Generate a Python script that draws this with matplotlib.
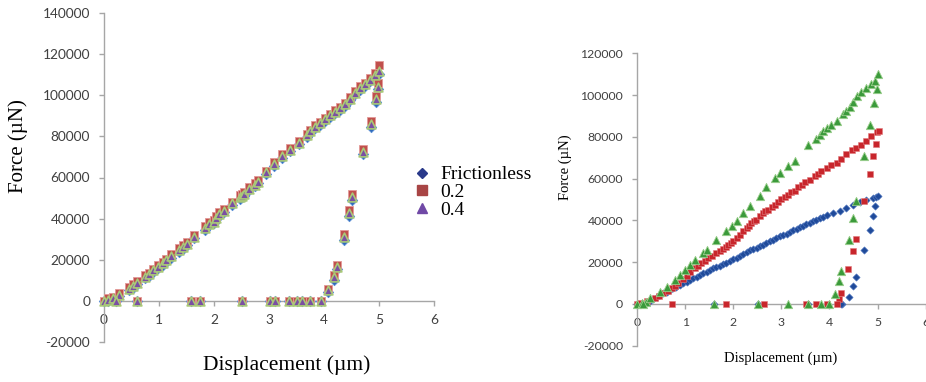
import matplotlib.pyplot as plt
from matplotlib.lines import Line2D

plt.rcParams["axes.unicode_minus"] = False

# ---- left chart: three friction cases, nearly on top of each other ----
left_disp = [0.0, 0.07, 0.16, 0.27, 0.45, 0.52, 0.6, 0.75, 0.81, 0.89, 0.99, 1.07,
             1.13, 1.22, 1.37, 1.43, 1.51, 1.63, 1.83, 1.9, 2.0, 2.04, 2.09, 2.19,
             2.33, 2.48, 2.51, 2.55, 2.63, 2.75, 2.8, 2.94, 3.09, 3.24, 3.39, 3.54,
             3.69, 3.75, 3.84, 3.93, 4.02, 4.11, 4.2, 4.29, 4.38, 4.47, 4.56, 4.65,
             4.74, 4.84, 4.93, 5.0,
             # unloading
             4.98, 4.95, 4.85, 4.7, 4.51, 4.45, 4.36, 4.24, 4.19, 4.08,
             # lost contact
             0.22, 0.6, 1.59, 1.75, 2.51, 3.01, 3.11, 3.37, 3.51, 3.6, 3.75, 3.94]

left_frictionless = [0, 0, 600, 2200, 5200, 6500, 8100, 10900, 12100, 14000, 15900, 17500,
                     18900, 21000, 23900, 25400, 27000, 30400, 34600, 36700, 37800, 39600,
                     41400, 43100, 46700, 49700, 50400, 51200, 53700, 55700, 57200, 61700,
                     65700, 69700, 72700, 76200, 79700, 81700, 84000, 85500, 87500, 89500,
                     91200, 92800, 94800, 97500, 100500, 102700, 104500, 106700, 109200, 110500,
                     102800, 96500, 84800, 71300, 49300, 41300, 29800, 15300, 10300, 4300,
                     0, 0, 0, 0, 0, 0, 0, 0, 0, 0, 0, 0]

left_02 = [0, 1200, 1900, 3800, 6800, 8100, 9700, 12500, 13700, 15600, 17500, 19100,
           20500, 22600, 25500, 27000, 28600, 32000, 36200, 38300, 39400, 41200,
           43000, 44700, 48300, 51300, 52000, 52800, 55300, 57300, 58800, 63300,
           67300, 71300, 74300, 77800, 81300, 83300, 85600, 87100, 89100, 91100,
           92800, 94400, 96400, 99100, 102100, 104300, 106100, 108300, 111000, 114500,
           106000, 99500, 87500, 74000, 52000, 44000, 32300, 17500, 12500, 6000,
           0, 0, 0, 0, 0, 0, 0, 0, 0, 0, 0, 0]

left_04 = [0, 600, 1300, 3000, 6000, 7300, 8900, 11700, 12900, 14800, 16700, 18300,
           19700, 21800, 24700, 26200, 27800, 31200, 35400, 37500, 38600, 40400,
           42200, 43900, 47500, 50500, 51200, 52000, 54500, 56500, 58000, 62500,
           66500, 70500, 73500, 77000, 80500, 82500, 84800, 86300, 88300, 90300,
           92000, 93600, 95600, 98300, 101300, 103500, 105300, 107500, 110000, 112000,
           104000, 98000, 86000, 72500, 50500, 42500, 31000, 16500, 11500, 5200,
           0, 0, 0, 0, 0, 0, 0, 0, 0, 0, 0, 0]

legend_labels = ["Frictionless", "0.2", "0.4"]

# ---- right chart ----
r_fless_x = [0.0, 0.13, 0.24, 0.34, 0.41, 0.48, 0.55, 0.62, 0.69, 0.75, 0.82, 0.89, 0.96,
             1.03, 1.1, 1.17, 1.24, 1.31, 1.38, 1.45, 1.52, 1.58, 1.65, 1.72, 1.79, 1.86,
             1.93, 2.0, 2.07, 2.14, 2.21, 2.28, 2.35, 2.42, 2.49, 2.55, 2.62, 2.69, 2.76,
             2.83, 2.9, 2.97, 3.04, 3.11, 3.18, 3.25, 3.32, 3.38, 3.45, 3.52, 3.59, 3.66,
             3.73, 3.8, 3.87, 3.94, 4.08, 4.21, 4.35, 4.49, 4.63, 4.77, 4.91, 4.97, 5.01,
             4.94, 4.91, 4.84, 4.71, 4.56, 4.49, 4.41, 4.27,
             1.6, 2.52, 3.56, 4.24]
r_fless_y = [0, 200, 900, 2400, 3300, 4300, 5100, 5900, 6700, 7500, 8300, 9100, 9900,
             10700, 11500, 12300, 13100, 13900, 14700, 15500, 16300, 17100, 17600, 18200,
             19000, 19800, 20600, 21400, 22200, 23000, 24000, 25100, 25600, 26200, 26900,
             27500, 28300, 29100, 29900, 30700, 31500, 32300, 32900, 33600, 34400, 35200,
             35900, 36600, 37400, 38200, 38800, 39500, 40300, 41100, 41700, 42400, 43500,
             44600, 45900, 47200, 48600, 49600, 50700, 51300, 51500,
             47000, 42200, 35500, 25900, 13100, 8600, 3200, 0,
             0, 0, 0, 0]

r_02_x = [0.0, 0.06, 0.2, 0.37, 0.45, 0.55, 0.64, 0.72, 0.79, 0.86, 0.95, 1.03, 1.11,
          1.2, 1.27, 1.34, 1.41, 1.48, 1.56, 1.65, 1.72, 1.79, 1.85, 1.9, 1.95, 2.0, 2.07,
          2.14, 2.21, 2.28, 2.33, 2.38, 2.43, 2.48, 2.55, 2.62, 2.67, 2.73, 2.8, 2.87,
          2.93, 3.0, 3.07, 3.14, 3.21, 3.28, 3.35, 3.42, 3.49, 3.59, 3.7, 3.77, 3.83,
          3.94, 4.04, 4.15, 4.25, 4.35, 4.46, 4.56, 4.66, 4.77, 4.87, 4.98, 5.03,
          4.96, 4.91, 4.84, 4.72, 4.56, 4.49, 4.39, 4.25, 4.2,
          0.72, 1.86, 2.64, 3.52, 3.72, 3.94, 4.15]
r_02_y = [0, 400, 1300, 2900, 4000, 5100, 6300, 7500, 8700, 9900, 11700, 13400, 15200,
          17100, 18300, 19500, 20700, 21900, 23100, 24300, 25300, 26200, 27200, 28300,
          29100, 29900, 31500, 33100, 34700, 36300, 37500, 38700, 39500, 40300, 41900,
          43500, 44300, 45100, 46300, 47500, 48900, 50400, 51300, 52200, 53400, 54300,
          55800, 57000, 58200, 59500, 61100, 62400, 63800, 65100, 66400, 67500, 69600,
          72000, 73600, 74700, 76000, 77900, 80300, 82200, 82700,
          76800, 71000, 62400, 49100, 31200, 25400, 16600, 5100, 2400,
          0, 0, 0, 0, 0, 0, 0]

r_04_x = [0.0, 0.1, 0.19, 0.28, 0.48, 0.62, 0.79, 0.89, 1.0, 1.1, 1.2, 1.38, 1.45,
          1.64, 1.86, 1.97, 2.07, 2.21, 2.35, 2.55, 2.69, 2.87, 2.97, 3.14, 3.28, 3.56,
          3.73, 3.8, 3.87, 3.94, 4.04, 4.15, 4.28, 4.35, 4.42, 4.49, 4.58, 4.66, 4.77,
          4.87, 4.94, 5.0,
          4.98, 4.92, 4.85, 4.71, 4.56, 4.49, 4.4, 4.25, 4.19, 4.11,
          0.12, 1.6, 2.52, 3.14, 3.56, 3.83, 3.99]
r_04_y = [0, 300, 1000, 2700, 5900, 8300, 11500, 13900, 16300, 18700, 21100, 24300,
          25900, 30700, 34700, 37100, 39500, 43500, 47000, 51800, 56000, 60300, 62700,
          65900, 68600, 76000, 79000, 81100, 82700, 84300, 85900, 87500, 90700, 92600,
          94400, 96600, 99500, 101400, 103500, 105100, 106700, 109900,
          103000, 96300, 85900, 70700, 49100, 41100, 30400, 16000, 11200, 4600,
          0, 0, 0, 0, 0, 0, 0]

tick_font = "Lato"
label_font = "Liberation Serif"
axis_grey = "#a6a6a6"
text_grey = "#404040"


def excel_axes(ax, xmax, ymin, ymax, ystep, tick_size):
    ax.set_xlim(0, xmax)
    ax.set_ylim(ymin, ymax)
    ax.set_xticks(range(0, xmax + 1))
    ax.set_yticks(range(ymin, ymax + 1, ystep))
    for s in ["top", "right"]:
        ax.spines[s].set_visible(False)
    ax.spines["bottom"].set_position(("data", 0))
    for s in ["left", "bottom"]:
        ax.spines[s].set_color(axis_grey)
        ax.spines[s].set_linewidth(1.0)
    ax.tick_params(direction="out", length=3.5, width=1.0, color=axis_grey,
                   labelcolor=text_grey, labelsize=tick_size)
    ax.tick_params(axis="x", pad=6)
    ax.tick_params(axis="y", pad=6.5)
    for lab in ax.get_xticklabels() + ax.get_yticklabels():
        lab.set_fontfamily(tick_font)
    ax.patch.set_alpha(0)


fig = plt.figure(figsize=(9.26, 3.82), dpi=100)

ax1 = fig.add_axes([104 / 926, 1 - 342 / 382, 330 / 926, 329 / 382])
excel_axes(ax1, 6, -20000, 140000, 20000, 9.9)

ax1.scatter(left_disp, left_frictionless, marker="D", s=28, color="#2f68b8",
            edgecolors="#5b8fd6", linewidths=0.6, clip_on=False, zorder=3)
ax1.scatter(left_disp, left_02, marker="s", s=34, color="#c0504d",
            edgecolors="#e39a98", linewidths=0.6, clip_on=False, zorder=3)
ax1.scatter(left_disp, left_04, marker="^", s=40, color="#7a4fa3",
            edgecolors="#a9c978", linewidths=1.2, clip_on=False, zorder=4)

fig.text(18 / 926, 1 - 146 / 382, "Force (\u00b5N)", rotation=90, ha="center",
         va="center", fontsize=15, fontfamily=label_font)
fig.text(287 / 926, 1 - 365 / 382, "Displacement (\u00b5m)", ha="center", va="center",
         fontsize=15.5, fontfamily=label_font)

# legend swatches are darker than the plotted points in the original
handles = [
    Line2D([], [], ls="none", marker="D", ms=5.5, color="#29398a"),
    Line2D([], [], ls="none", marker="s", ms=7, color="#a84545"),
    Line2D([], [], ls="none", marker="^", ms=6.5, color="#7049a6"),
]
fig.legend(handles=handles, labels=legend_labels,
           loc="upper left", bbox_to_anchor=(404 / 926, 1 - 158 / 382), frameon=False,
           prop={"family": label_font, "size": 14}, handletextpad=0.45,
           labelspacing=0.0, handlelength=1.0, borderaxespad=0)

ax2 = fig.add_axes([637 / 926, 1 - 345.7 / 382, 288.6 / 926, 292.4 / 382])
excel_axes(ax2, 6, -20000, 120000, 20000, 8.8)

ax2.scatter(r_fless_x, r_fless_y, marker="D", s=14, color="#1f4a9a",
            edgecolors="#5a7fc4", linewidths=0.4, clip_on=False, zorder=3)
ax2.scatter(r_02_x, r_02_y, marker="s", s=20, color="#c8262c",
            edgecolors="#e07a7c", linewidths=0.4, clip_on=False, zorder=3)
ax2.scatter(r_04_x, r_04_y, marker="^", s=36, color="#3b9a3b",
            edgecolors="#9ccf8e", linewidths=0.6, clip_on=False, zorder=4)

fig.text(565 / 926, 1 - 167 / 382, "Force (\u00b5N)", rotation=90, ha="center",
         va="center", fontsize=10.5, fontfamily=label_font)
fig.text(781 / 926, 1 - 358 / 382, "Displacement (\u00b5m)", ha="center", va="center",
         fontsize=10.5, fontfamily=label_font)

fig.savefig("out.png", dpi=100)
